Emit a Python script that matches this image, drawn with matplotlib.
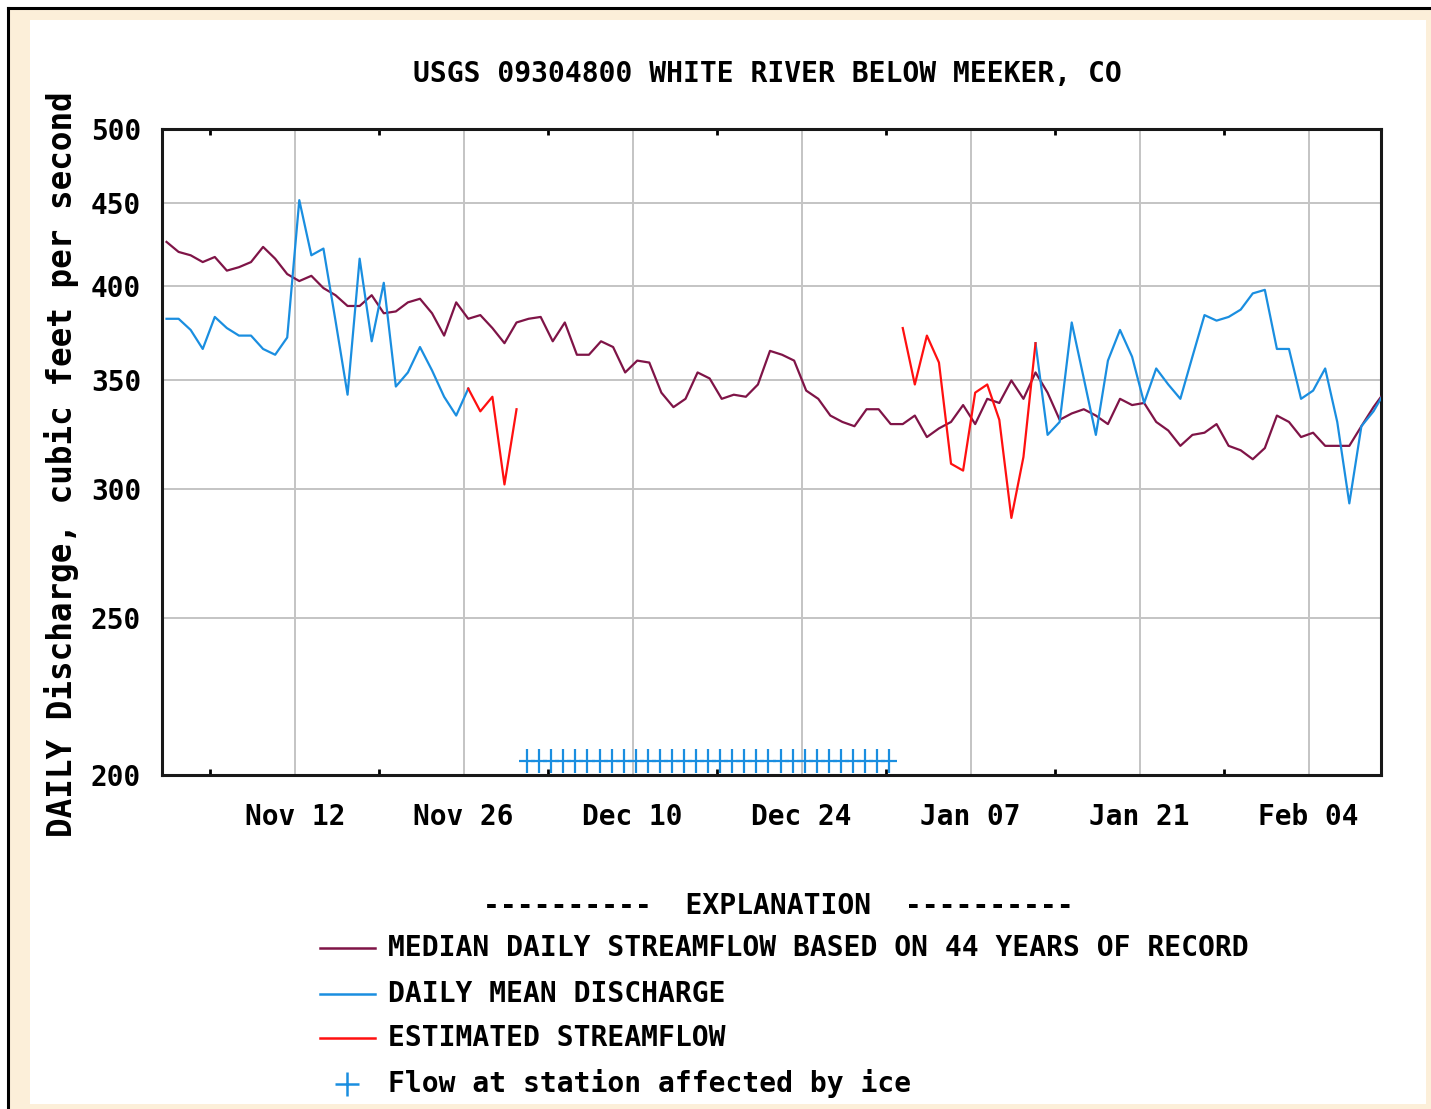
import numpy as np
import pandas as pd
import matplotlib
matplotlib.use("Agg")
import matplotlib.pyplot as plt
import matplotlib.dates as mdates
from matplotlib.lines import Line2D
from matplotlib.patches import Rectangle
from matplotlib.path import Path
from matplotlib.ticker import FixedLocator, FixedFormatter

# --- data (cubic feet per second) ---
first_day = "2012-11-01 09:00"

# median daily streamflow, Nov 01 .. Feb 10 (last one runs off the right edge)
median_flow = [426, 420, 418, 414, 417, 409, 411, 414, 423, 416,
               407, 403, 406, 399, 395, 389, 389, 395, 385, 386,
               391, 393, 385, 373, 391, 382, 384, 377, 369, 380,
               382, 383, 370, 380, 363, 363, 370, 367, 354, 360,
               359, 344, 337, 341, 354, 351, 341, 343, 342, 348,
               365, 363, 360, 345, 341, 333, 330, 328, 336, 336,
               329, 329, 333, 323, 327, 330, 338, 329, 341, 339,
               350, 341, 354, 344, 331, 334, 336, 333, 329, 341,
               338, 339, 330, 326, 319, 324, 325, 329, 319, 317,
               313, 318, 333, 330, 323, 325, 319, 319, 319, 328,
               337, 345]

# daily mean discharge (approved), two pieces
mean_flow_1 = [382, 382, 376, 366, 383, 377, 373, 373, 366, 363,
               372, 452, 418, 422, 381, 343, 416, 370, 402, 347,
               354, 367, 355, 342, 333, 346]
mean_flow_1_start = 0
mean_flow_2 = [369, 324, 330, 380, 351, 324, 360, 376, 362, 339,
               356, 348, 341, 362, 384, 381, 383, 387, 396, 398,
               366, 366, 341, 345, 356, 330, 294, 328, 335, 345]
mean_flow_2_start = 72

# estimated streamflow, two pieces
est_flow_1 = [346, 335, 342, 302, 336]
est_flow_1_start = 25
est_flow_2 = [377, 348, 373, 359, 311, 308, 344, 348, 331, 288, 314, 369]
est_flow_2_start = 61

# days with flow affected by ice
ice_start = 30
ice_days = 31
ice_level = 204

y_ticks = [200, 250, 300, 350, 400, 450, 500]
major_dates = pd.date_range("2012-11-12", "2013-02-04", freq="14D")
minor_dates = pd.date_range("2012-11-05", "2013-02-10", freq="14D")
x_start, x_end = pd.Timestamp("2012-11-01"), pd.Timestamp("2013-02-10")

title = "USGS 09304800 WHITE RIVER BELOW MEEKER, CO"
y_label = "DAILY Discharge, cubic feet per second"
legend_labels = ["MEDIAN DAILY STREAMFLOW BASED ON 44 YEARS OF RECORD",
                 "DAILY MEAN DISCHARGE",
                 "ESTIMATED STREAMFLOW",
                 "Flow at station affected by ice"]

C_MEDIAN = "#7f1447"
C_MEAN = "#1a8ee0"
C_EST = "#ff1010"
C_CREAM = "#fcefd9"
FONT = "DejaVu Sans Mono"

W, H = 1431, 1109


def fx(px):
    return px / W


def fy(py):
    return 1 - py / H


def days(start, n):
    return pd.date_range(first_day, periods=len(median_flow), freq="D")[start:start + n]


fig = plt.figure(figsize=(W / 100, H / 100), dpi=100)
fig.patch.set_facecolor("white")

# cream frame, white panel, black border on top and left
fig.patches.append(Rectangle((fx(9), 0), 1 - fx(9), fy(9), transform=fig.transFigure,
                             facecolor=C_CREAM, edgecolor="none", zorder=-3))
fig.patches.append(Rectangle((fx(30), fy(1104)), fx(1426) - fx(30), fy(20) - fy(1104),
                             transform=fig.transFigure, facecolor="white",
                             edgecolor="none", zorder=-2))
fig.add_artist(Line2D([fx(8), 1], [fy(8), fy(8)], color="black", lw=2.2,
                      transform=fig.transFigure))
fig.add_artist(Line2D([fx(8), fx(8)], [fy(8), 0], color="black", lw=2.2,
                      transform=fig.transFigure))

ax = fig.add_axes([fx(162), fy(775), fx(1381) - fx(162), fy(129) - fy(775)])
ax.set_facecolor("white")

dates_all = days(0, len(median_flow))
ax.plot(dates_all, median_flow, color=C_MEDIAN, lw=1.6, zorder=3)
ax.plot(days(mean_flow_1_start, len(mean_flow_1)), mean_flow_1, color=C_MEAN, lw=1.6, zorder=4)
ax.plot(days(mean_flow_2_start, len(mean_flow_2)), mean_flow_2, color=C_MEAN, lw=1.6, zorder=4)
ax.plot(days(est_flow_1_start, len(est_flow_1)), est_flow_1, color=C_EST, lw=1.6, zorder=5)
ax.plot(days(est_flow_2_start, len(est_flow_2)), est_flow_2, color=C_EST, lw=1.6, zorder=5)

ice_marker = Path([(-0.35, 0), (0.35, 0), (0, -0.5), (0, 0.5)],
                  [Path.MOVETO, Path.LINETO, Path.MOVETO, Path.LINETO])
ice_dates = days(ice_start, ice_days) - pd.Timedelta(hours=3)
ax.plot(ice_dates, [ice_level] * ice_days, ls="none", marker=ice_marker,
        markersize=17, markeredgewidth=1.6, color=C_MEAN, zorder=6)

ax.set_yscale("log")
ax.set_ylim(200, 500)
ax.set_xlim(x_start, x_end)
ax.yaxis.set_major_locator(FixedLocator(y_ticks))
ax.yaxis.set_major_formatter(FixedFormatter([str(v) for v in y_ticks]))
ax.yaxis.set_minor_locator(FixedLocator([]))
ax.set_xticks(major_dates)
ax.set_xticks(minor_dates, minor=True)
ax.xaxis.set_major_formatter(mdates.DateFormatter("%b %d"))

ax.grid(True, which="major", color="#c4c4c4", lw=1.4)
ax.tick_params(axis="both", which="major", length=0, labelsize=20)
ax.tick_params(axis="y", pad=15)
ax.tick_params(axis="x", pad=20)
ax.tick_params(axis="x", which="minor", direction="in", length=4, width=2,
               top=True, bottom=True)
for lab in ax.get_xticklabels() + ax.get_yticklabels():
    lab.set_fontfamily(FONT)
    lab.set_fontweight("bold")
for sp in ax.spines.values():
    sp.set_linewidth(2.2)
    sp.set_color("#181818")

fig.text(fx(767), fy(74), title, ha="center", va="center", fontsize=20.2,
         fontweight="bold", family=FONT)
fig.text(fx(62), fy(464), y_label, ha="center", va="center", rotation=90,
         fontsize=23.5, fontweight="bold", family=FONT)

# explanation block
fig.text(fx(778), fy(906), "----------  EXPLANATION  ----------", ha="center",
         va="center", fontsize=20.2, fontweight="bold", family=FONT)
row_y = [948, 994, 1038, 1084]
row_col = [C_MEDIAN, C_MEAN, C_EST]
for i, (yy, lab) in enumerate(zip(row_y, legend_labels)):
    if i < 3:
        fig.add_artist(Line2D([fx(320), fx(375)], [fy(yy), fy(yy)], color=row_col[i],
                              lw=1.8, transform=fig.transFigure))
    else:
        fig.add_artist(Line2D([fx(347)], [fy(yy)], ls="none", marker="+", markersize=17,
                              markeredgewidth=1.8, color=C_MEAN,
                              transform=fig.transFigure))
    fig.text(fx(388), fy(yy), lab, ha="left", va="center", fontsize=20.2,
             fontweight="bold", family=FONT)

fig.savefig("out.png", dpi=100)
